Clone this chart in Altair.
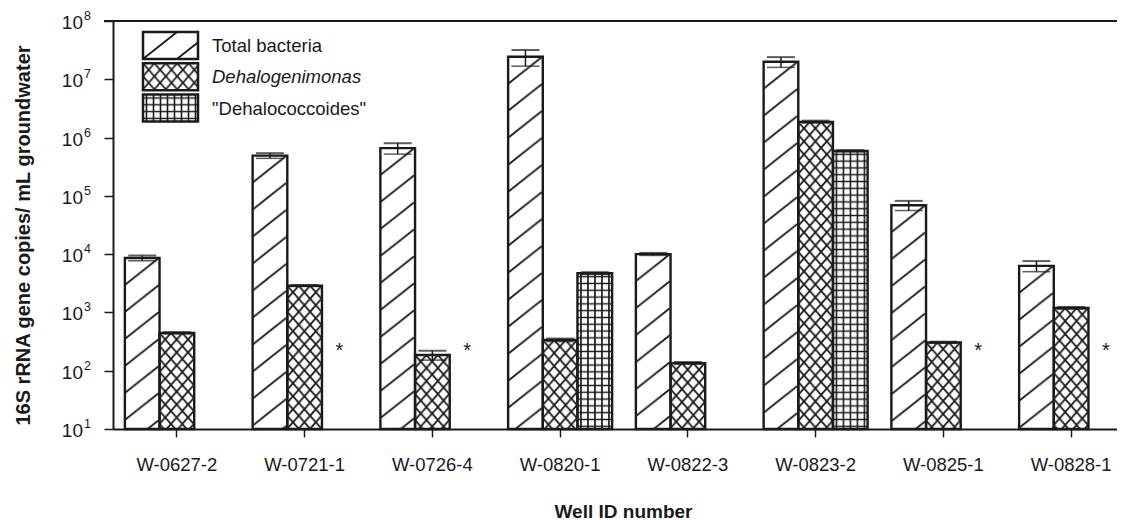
import urllib.parse
import altair as alt
import pandas as pd

# ---------------- data ----------------
wells = ["W-0627-2", "W-0721-1", "W-0726-4", "W-0820-1",
         "W-0822-3", "W-0823-2", "W-0825-1", "W-0828-1"]
series_names = ["Total bacteria", "Dehalogenimonas", "\"Dehalococcoides\""]

total_vals = [8.6e3, 4.9e5, 6.6e5, 2.43e7, 1.0e4, 2.0e7, 6.9e4, 6.3e3]
total_err = [9.0e2, 5.0e4, 1.4e5, 7.5e6, 5.0e2, 4.0e6, 1.3e4, 1.3e3]

dehalo_vals = [444, 2870, 186, 336, 135, 1.86e6, 305, 1190]
dehalo_err = [15, 80, 34, 20, 6, 9.0e4, 10, 50]

dhc_vals = [None, None, None, 4700, None, 5.9e5, None, None]
dhc_err = [None, None, None, 200, None, 2.0e4, None, None]

not_detected_wells = ["W-0721-1", "W-0726-4", "W-0825-1", "W-0828-1"]
asterisk_level = 175

decades = [10, 100, 1e3, 1e4, 1e5, 1e6, 1e7, 1e8]
exponents = ["1", "2", "3", "4", "5", "6", "7", "8"]

FONT = "Liberation Sans"
INK = "#1a1a1a"


# ---------------- hatch patterns as small SVG images ----------------
def pattern_uri(w, h, d, sw=1.5):
    svg = ("<svg xmlns='http://www.w3.org/2000/svg' width='100%' height='100%'>"
           f"<defs><pattern id='p' patternUnits='userSpaceOnUse' width='{w}' height='{h}'>"
           f"<path d='{d}' stroke='{INK}' stroke-width='{sw}' fill='none'/></pattern></defs>"
           "<rect width='100%' height='100%' fill='white'/>"
           "<rect width='100%' height='100%' fill='url(#p)'/></svg>")
    return "data:image/svg+xml;charset=utf-8," + urllib.parse.quote(svg)


pat_diag = pattern_uri(34, 27, "M-34,27 L0,0 M0,27 L34,0 M34,27 L68,0", 1.8)
pat_cross = pattern_uri(11.4, 13, "M0,0 L11.4,13 M0,13 L11.4,0", 1.8)
pat_grid = pattern_uri(7, 6.8, "M3.5,0 V6.8 M0,3.4 H7", 1.6)
patterns = [pat_diag, pat_cross, pat_grid]

rows = []
for s_i, (vals, errs) in enumerate([(total_vals, total_err),
                                     (dehalo_vals, dehalo_err),
                                     (dhc_vals, dhc_err)]):
    for w, v, e in zip(wells, vals, errs):
        if v is None:
            continue
        rows.append({"well": w, "series": series_names[s_i], "value": v,
                     "lo": v - e, "hi": v + e, "base": 10, "pat": patterns[s_i]})
df = pd.DataFrame(rows)

ast_df = pd.DataFrame({"well": not_detected_wells,
                       "series": [series_names[2]] * len(not_detected_wells),
                       "value": [asterisk_level] * len(not_detected_wells)})
dec_df = pd.DataFrame({"value": decades, "exp": exponents})

# ---------------- encodings ----------------
x_enc = alt.X("well:N", sort=wells,
              scale=alt.Scale(range=[0, 1022], paddingInner=0.186, paddingOuter=0.093),
              axis=alt.Axis(title="Well ID number", labelAngle=0, labelFont=FONT,
                            labelFontSize=18.5, labelColor=INK, labelPadding=18,
                            tickSize=8, tickWidth=1.5, tickColor=INK,
                            domainColor=INK, domainWidth=2,
                            titleFont=FONT, titleFontSize=19, titleFontWeight="bold",
                            titleColor=INK, titleX=510, titleY=88,
                            titleBaseline="alphabetic"))
xo_enc = alt.XOffset("series:N", sort=series_names,
                     scale=alt.Scale(domain=series_names, paddingInner=0, paddingOuter=0))
y_scale = alt.Scale(type="log", domain=[10, 1e8], nice=False)
y_enc = alt.Y("value:Q", scale=y_scale,
              axis=alt.Axis(values=decades, labels=False, grid=False,
                            tickSize=9, tickWidth=1.5, tickColor=INK,
                            domainColor=INK, domainWidth=2,
                            title="16S rRNA gene copies/ mL groundwater",
                            titleFont=FONT, titleFontSize=20, titleFontWeight="bold",
                            titleColor=INK, titleAngle=-90, titleX=-80, titleY=214,
                            titleBaseline="bottom", titleAlign="center"))

base = alt.Chart(df)

bars_pat = base.mark_image(aspect=False).encode(
    x=x_enc, xOffset=xo_enc, y=y_enc, y2="base:Q", url="pat:N")
bars_outline = base.mark_bar(fillOpacity=0, stroke=INK, strokeWidth=2.4).encode(
    x=x_enc, xOffset=xo_enc, y=y_enc, y2="base:Q")
err_rule = base.mark_rule(color=INK, strokeWidth=1.5).encode(
    x=x_enc, xOffset=xo_enc, y="lo:Q", y2="hi:Q")
cap_hi = base.mark_tick(orient="horizontal", size=28, thickness=2, color=INK).encode(
    x=x_enc, xOffset=xo_enc, y="hi:Q")
cap_lo = base.mark_tick(orient="horizontal", size=28, thickness=1.5, color=INK).encode(
    x=x_enc, xOffset=xo_enc, y="lo:Q")

asterisks = alt.Chart(ast_df).mark_text(text="*", font=FONT, fontSize=20, color=INK,
                                        baseline="alphabetic").encode(
    x=x_enc, xOffset=xo_enc, y=alt.Y("value:Q", scale=y_scale))

# top frame line
top_line = alt.Chart(pd.DataFrame({"value": [1e8]})).mark_rule(
    color=INK, strokeWidth=2).encode(
    y=alt.Y("value:Q", scale=y_scale), x=alt.value(-9), x2=alt.value(1022))

# y tick labels: 10 with superscript exponent
lab_ten = alt.Chart(dec_df).mark_text(text="10", font=FONT, fontSize=19, color=INK,
                                      align="right", baseline="middle", dy=2).encode(
    y=alt.Y("value:Q", scale=y_scale), x=alt.value(-30))
lab_exp = alt.Chart(dec_df).mark_text(font=FONT, fontSize=12.5, color=INK,
                                      align="left", baseline="middle", dy=-5).encode(
    y=alt.Y("value:Q", scale=y_scale), x=alt.value(-29), text="exp:N")

# custom legend
leg_layers = []
one = pd.DataFrame({"k": [0]})
for i, (name, uri) in enumerate(zip(series_names, patterns)):
    top = 11 + i * 31.3
    leg_layers.append(alt.Chart(one).mark_image(aspect=False).encode(
        x=alt.value(30), x2=alt.value(85), y=alt.value(top), y2=alt.value(top + 27),
        url=alt.value(uri)))
    leg_layers.append(alt.Chart(one).mark_rect(fillOpacity=0, stroke=INK, strokeWidth=2.5).encode(
        x=alt.value(30), x2=alt.value(85), y=alt.value(top), y2=alt.value(top + 27)))
    leg_layers.append(alt.Chart(one).mark_text(
        text=name, font=FONT, fontSize=18.5, color=INK, align="left", baseline="middle",
        fontStyle="italic" if i == 1 else "normal").encode(
        x=alt.value(99), y=alt.value(top + 14)))

chart = alt.layer(
    bars_pat, bars_outline, err_rule, cap_hi, cap_lo, asterisks,
    top_line, lab_ten, lab_exp, *leg_layers
).properties(
    width=1004, height=408,
    autosize=alt.AutoSizeParams(type="none"),
    padding={"left": 105, "top": 13, "right": 0, "bottom": 91},
).configure_view(stroke=None).configure(background="white")

chart.save("out.html", embed_options={"renderer": "svg", "actions": False})
